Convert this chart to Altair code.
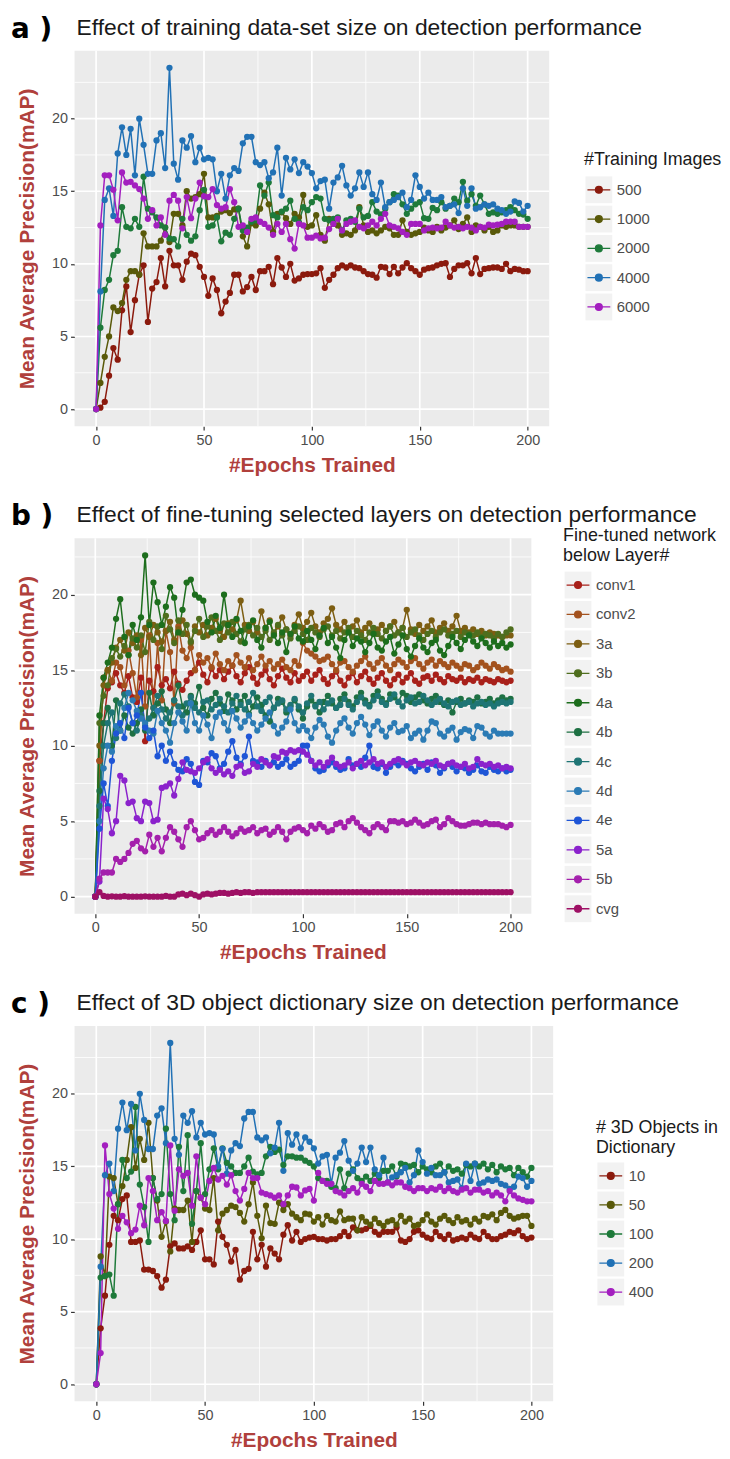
import altair as alt
import pandas as pd

EPOCHS = list(range(0, 201, 2))

# ---------------- panel a : training data-set size ----------------
A_LABELS = ["500", "1000", "2000", "4000", "6000"]
A_500 = [0, 0.1, 0.5, 2.3, 4.2, 3.4, 6.8, 8.45, 5.3, 7.5,
         9.25, 9.9, 6.0, 8.3, 8.75, 10.4, 8.45, 10.9, 9.9, 9.9,
         8.9, 10.15, 10.7, 10.6, 9.8, 9.1, 7.8, 9.0, 8.2, 6.6,
         7.4, 8.0, 9.25, 9.25, 8.1, 8.4, 9.1, 8.2, 9.5, 9.5,
         9.8, 8.6, 10.4, 9.75, 9.1, 10.0, 8.85, 9.0, 9.25, 9.3,
         9.3, 9.35, 9.7, 8.35, 8.9, 9.25, 9.7, 9.9, 9.75, 9.9,
         9.75, 9.7, 9.5, 9.3, 9.25, 9.05, 9.8, 9.75, 9.3, 9.8,
         9.35, 9.75, 10.05, 9.7, 9.5, 9.25, 9.6, 9.7, 9.75, 9.9,
         10.0, 10.05, 9.1, 9.65, 9.9, 9.9, 10.05, 9.35, 10.4, 9.3,
         9.65, 9.7, 9.75, 9.75, 9.65, 10.0, 9.5, 9.65, 9.6, 9.5,
         9.5]
A_1000 = [0, 1.8, 3.6, 5.0, 7.0, 6.75, 7.3, 8.9, 9.5, 9.5,
          9.25, 12.1, 11.2, 11.2, 11.2, 11.6, 12.5, 11.5, 13.45, 13.45,
          12.65, 15.0, 14.5, 14.6, 14.8, 16.2, 13.2, 13.2, 13.3, 13.6,
          13.7, 13.5, 13.75, 13.8, 11.9, 11.2, 12.8, 12.65, 13.8, 14.9,
          14.1, 12.2, 13.45, 13.55, 13.15, 12.75, 13.45, 13.2, 14.75, 12.55,
          12.65, 13.35, 12.0, 11.6, 13.1, 12.75, 12.65, 12.0, 12.1, 12.0,
          12.3, 13.9, 12.65, 12.2, 12.3, 12.1, 12.3, 12.55, 12.45, 12.0,
          12.0, 13.0, 12.2, 12.0, 12.1, 12.2, 12.5, 12.3, 12.2, 12.55,
          12.3, 12.5, 12.65, 13.0, 12.4, 12.75, 13.2, 12.2, 12.65, 12.55,
          12.3, 12.55, 12.2, 12.3, 12.65, 12.55, 12.65, 12.65, 12.55, 12.55,
          12.55]
A_2000 = [0, 5.6, 8.2, 8.9, 10.6, 10.9, 13.9, 12.55, 12.45, 13.1,
          12.55, 16.0, 13.8, 13.55, 13.2, 12.65, 12.5, 11.75, 11.7, 11.2,
          13.1, 12.0, 11.6, 11.9, 13.7, 15.1, 12.55, 12.65, 13.2, 11.55,
          12.15, 12.0, 13.1, 13.8, 12.3, 12.5, 12.9, 13.0, 15.4, 14.7,
          15.6, 13.35, 13.2, 13.6, 13.8, 14.35, 13.1, 12.85, 13.9, 13.7,
          14.25, 14.6, 14.5, 13.1, 13.0, 13.1, 13.2, 12.3, 13.0, 13.1,
          12.9, 13.8, 13.2, 13.3, 14.25, 13.6, 13.4, 13.8, 14.25, 14.8,
          14.7, 14.1, 13.45, 13.8, 14.1, 14.25, 13.15, 13.1, 13.85, 13.7,
          14.25, 13.8, 14.0, 14.5, 14.25, 15.65, 14.35, 14.8, 14.0, 14.7,
          14.1, 13.45, 13.55, 13.45, 13.55, 13.7, 13.9, 13.7, 13.45, 13.4,
          13.1]
A_4000 = [0, 8.1, 14.4, 15.2, 13.3, 17.6, 19.4, 17.5, 19.3, 16.1,
          20.0, 18.2, 16.2, 16.2, 18.5, 19.0, 16.6, 23.5, 16.9, 15.8,
          18.5, 18.0, 18.8, 17.0, 18.0, 17.2, 17.3, 17.2, 15.0, 16.2,
          14.5, 16.1, 16.6, 16.4, 18.3, 18.75, 18.75, 17.0, 16.8, 17.0,
          15.9, 16.3, 18.0, 14.7, 17.3, 16.5, 17.2, 16.25, 17.0, 16.7,
          16.25, 15.2, 15.7, 15.8, 13.8, 15.6, 15.95, 16.75, 15.4, 14.7,
          15.2, 16.3, 15.3, 16.3, 14.8, 14.4, 15.6, 13.9, 14.25, 14.4,
          14.6, 14.9, 13.9, 14.4, 16.1, 15.3, 14.5, 14.9, 14.4, 14.4,
          14.6, 13.9, 14.0, 14.1, 13.5, 15.2, 14.0, 15.2, 13.8, 13.9,
          14.1, 14.0, 14.1, 13.8, 13.7, 13.45, 13.6, 14.3, 14.2, 13.6,
          14.0]
A_6000 = [0, 12.65, 16.1, 16.1, 15.1, 13.0, 16.3, 15.6, 15.65, 15.4,
          15.15, 14.5, 13.1, 13.7, 12.65, 13.2, 12.0, 14.35, 14.75, 14.35,
          12.45, 14.6, 13.15, 14.5, 15.6, 14.65, 14.6, 15.15, 14.05, 13.8,
          13.9, 15.15, 14.25, 12.55, 12.65, 12.2, 13.1, 13.2, 12.9, 12.75,
          12.5, 12.0, 12.75, 12.2, 12.75, 11.7, 11.05, 12.75, 12.65, 11.8,
          11.8, 11.95, 11.75, 11.8, 12.4, 12.75, 13.1, 12.3, 12.75, 12.9,
          13.0, 12.55, 12.45, 12.65, 12.9, 12.65, 13.1, 13.45, 12.65, 12.55,
          12.45, 12.2, 12.0, 12.75, 12.75, 12.75, 12.3, 12.45, 12.5, 12.45,
          12.5, 12.9, 12.65, 12.5, 12.55, 12.45, 12.55, 12.5, 12.3, 12.55,
          12.5, 12.7, 12.65, 12.7, 12.75, 12.9, 12.9, 12.9, 12.55, 12.55,
          12.55]

# ---------------- panel b : fine-tuned layers ----------------
B_LABELS = ["conv1", "conv2", "3a", "3b", "4a", "4b", "4c", "4d", "4e", "5a", "5b", "cvg"]
B_CONV1 = [0, 9.0, 11.5, 13.8, 14.2, 14.8, 14.0, 13.5, 14.6, 13.2,
           12.9, 14.5, 10.3, 14.3, 13.6, 15.2, 14.0, 14.4, 13.8, 14.9,
           14.1, 13.7, 14.3, 14.8, 15.0, 15.5, 14.7, 14.2, 15.1, 14.6,
           15.0, 14.4, 14.9, 15.3, 14.6, 14.2, 14.8, 15.2, 14.5, 14.1,
           14.7, 15.0, 14.4, 14.0, 14.6, 15.1, 14.5, 14.2, 14.8, 14.3,
           14.6, 14.9, 14.3, 14.7, 15.0, 14.4, 14.1, 14.6, 14.9, 14.3,
           14.0, 14.5, 14.8, 14.2, 14.6, 14.9, 14.4, 14.1, 14.5, 14.8,
           14.3, 14.0, 14.4, 14.7, 14.2, 14.5, 14.8, 14.3, 14.1, 14.5,
           14.6, 14.3, 14.7, 14.4, 14.2, 14.6, 14.4, 14.3, 14.5, 14.2,
           14.4, 14.3, 14.5, 14.2, 14.4, 14.3, 14.2, 14.4, 14.3, 14.2,
           14.3]
B_CONV2 = [0, 9.0, 14.5, 15.0, 14.3, 15.5, 15.2, 14.0, 16.3, 14.8,
           13.2, 17.0, 12.6, 17.3, 12.5, 16.8, 13.0, 17.6, 16.2, 12.8,
           17.9, 16.3, 15.8, 16.5, 15.0, 16.0, 15.5, 15.8, 15.2, 16.1,
           15.4, 15.0, 15.6, 15.3, 16.0, 15.5, 15.2, 15.8, 15.0, 15.4,
           15.9, 15.3, 15.6, 15.1, 15.4, 15.7, 15.2, 15.0, 15.6, 15.3,
           16.8, 16.3, 16.1, 15.9, 15.6, 15.7, 15.9, 15.4, 15.0, 15.5,
           15.6, 15.2, 14.9, 15.3, 15.6, 15.9, 15.4, 15.1, 15.5, 15.8,
           15.3, 15.0, 15.4, 15.7, 15.5, 15.2, 15.6, 15.8, 15.4, 15.1,
           15.5, 15.7, 15.3, 15.6, 15.4, 15.2, 15.5, 15.3, 15.1, 15.4,
           15.3, 15.0, 15.2, 15.5, 15.3, 15.1, 15.4, 15.2, 15.0, 15.1,
           14.9]
B_3A = [0, 10.0, 14.0, 15.0, 15.5, 16.5, 17.0, 16.3, 17.5, 16.8,
        17.3, 16.0, 17.8, 17.2, 18.0, 17.5, 16.9, 17.6, 18.2, 17.0,
        17.7, 18.3, 17.4, 16.8, 17.9, 17.5, 18.0, 17.3, 17.8, 18.4,
        17.6, 17.2, 18.1, 17.7, 18.3, 19.6, 18.0, 17.6, 18.2, 17.5,
        18.9, 17.8, 18.3, 17.4, 17.9, 18.5, 17.7, 17.3, 18.0, 18.7,
        17.8, 18.2, 18.8, 17.9, 17.5, 18.1, 18.4, 19.1, 18.0, 17.7,
        18.2, 17.6, 17.9, 18.3, 17.5, 17.8, 18.1, 17.4, 17.7, 18.0,
        17.6, 17.9, 18.2, 17.5, 17.8, 19.0, 17.7, 17.4, 18.0, 17.6,
        17.9, 18.3, 17.5, 17.8, 18.1, 17.6, 17.9, 18.6, 17.6, 17.8,
        17.5, 17.7, 17.4, 17.6, 17.3, 17.5, 17.4, 17.3, 17.2, 17.3,
        17.3]
B_3B = [0, 11.5, 13.3, 14.0, 15.8, 16.4, 15.9, 16.6, 16.0, 17.1,
        16.5, 17.3, 16.2, 18.2, 17.0, 17.9, 16.4, 18.6, 17.7, 16.8,
        18.3, 17.4, 18.0, 16.9, 17.6, 18.4, 17.2, 17.9, 18.5, 17.6,
        17.0, 18.1, 17.5, 18.2, 17.4, 16.9, 17.7, 18.0, 17.3, 17.8,
        17.2, 17.6, 17.0, 17.5, 18.0, 17.3, 17.7, 17.1, 17.6, 17.9,
        17.4, 17.0, 17.8, 17.5, 17.2, 17.7, 17.9, 17.3, 17.6, 17.1,
        17.5, 17.8, 17.2, 17.6, 17.3, 17.0, 17.5, 17.8, 17.4, 17.1,
        17.6, 17.9, 17.3, 17.5, 17.8, 17.2, 17.5, 17.7, 17.3, 17.0,
        17.4, 17.6, 17.2, 17.5, 17.7, 17.3, 17.4, 17.6, 17.2, 17.5,
        17.4, 17.3, 17.5, 17.2, 17.4, 17.3, 17.1, 17.4, 17.2, 17.5,
        17.7]
B_4A = [0, 12.0, 14.5, 15.5, 16.5, 18.4, 19.7, 17.2, 16.0, 18.0,
        17.0, 18.5, 22.6, 18.0, 20.8, 19.5, 18.0, 19.2, 20.5, 19.8,
        17.5, 19.0, 20.8, 21.0, 20.0, 19.8, 19.6, 18.2, 17.5, 18.6,
        17.8, 20.0, 18.0, 17.2, 18.4, 17.6, 16.8, 17.9, 18.3, 17.0,
        16.5, 17.8, 18.2, 17.3, 16.8, 17.5, 16.2, 17.4, 17.9, 17.1,
        16.9, 17.6, 17.0, 16.4, 17.3, 17.8, 16.8, 17.2, 16.5, 15.8,
        17.0, 17.5, 16.6, 17.1, 16.9, 16.2, 16.8, 17.4, 16.5, 16.3,
        16.9, 17.2, 16.1, 16.7, 17.3, 16.4, 15.9, 16.6, 17.1, 16.5,
        16.2, 16.8, 17.0, 16.3, 16.0, 16.6, 17.2, 16.8, 16.4, 17.0,
        17.3, 16.9, 16.6, 17.1, 16.8, 16.5, 16.9, 16.6, 16.8, 16.5,
        16.7]
B_4B = [0, 7.0, 11.5, 12.5, 10.0, 13.0, 11.0, 12.0, 11.2, 10.8,
        11.5, 12.4, 11.0, 13.5, 12.0, 12.8, 13.6, 12.4, 11.5, 13.0,
        14.0, 12.6, 12.2, 13.3, 12.8, 13.9, 12.5, 12.0, 13.1, 13.5,
        12.8, 12.3, 13.4, 13.0, 12.4, 12.9, 13.3, 12.1, 12.6, 13.2,
        12.7, 12.0, 11.6, 12.5, 13.1, 12.9, 12.2, 12.6, 13.0, 12.4,
        11.8, 12.6, 13.0, 12.7, 12.2, 12.9, 13.3, 12.8, 12.5, 13.1,
        13.4, 12.9, 12.6, 13.2, 13.5, 13.0, 12.7, 13.3, 13.6, 13.1,
        12.8, 13.4, 13.2, 12.9, 13.5, 13.3, 12.9, 13.2, 13.4, 13.0,
        12.8, 13.1, 13.3, 12.9, 12.7, 13.0, 12.2, 12.9, 13.1, 12.8,
        13.0, 12.9, 13.2, 12.8, 12.9, 13.1, 12.8, 13.0, 13.2, 13.0,
        13.1]
B_4C = [0, 6.0, 10.0, 11.5, 12.2, 10.5, 12.8, 13.4, 12.6, 11.5,
        11.0, 12.0, 11.3, 11.8, 12.5, 13.3, 12.4, 11.8, 12.2, 13.0,
        12.6, 12.0, 12.8, 13.2, 12.5, 12.2, 12.9, 13.0, 12.4, 12.7,
        13.1, 12.6, 12.2, 12.8, 13.3, 12.7, 12.4, 12.9, 13.5, 12.6,
        12.3, 12.9, 13.2, 12.5, 12.8, 13.0, 12.4, 12.7, 13.1, 12.6,
        12.2, 12.8, 13.3, 12.6, 12.9, 12.4, 12.8, 13.0, 12.5, 12.7,
        13.1, 12.7, 12.4, 12.9, 13.2, 12.8, 12.6, 13.0, 13.3, 12.9,
        12.7, 13.1, 13.4, 12.9, 12.6, 13.0, 13.2, 12.8, 12.9, 13.3,
        13.0, 12.7, 12.9, 13.1, 12.8, 12.6, 12.9, 13.0, 12.7, 12.8,
        12.9, 12.6, 12.8, 12.9, 12.7, 12.8, 12.6, 12.8, 12.9, 12.8,
        12.9]
B_4D = [0, 5.0, 8.5, 10.0, 9.6, 11.3, 11.0, 12.5, 13.5, 13.0,
        12.3, 11.8, 11.5, 11.0, 10.8, 12.3, 11.5, 11.0, 10.2, 11.5,
        12.2, 11.6, 11.0, 12.8, 11.5, 11.0, 12.0, 11.4, 10.5, 11.9,
        12.2, 11.5, 11.0, 12.3, 11.8, 11.2, 11.6, 12.0, 11.5, 11.0,
        11.4, 11.8, 12.2, 11.3, 10.8, 11.2, 11.6, 12.4, 11.5, 11.0,
        11.3, 11.0, 10.5, 11.2, 11.7, 11.4, 10.6, 10.2, 11.0, 11.5,
        11.8, 11.2, 10.8, 11.5, 11.9, 11.4, 10.7, 11.3, 11.6, 11.0,
        10.6, 11.2, 11.5, 10.9, 11.0, 11.3, 10.5, 10.8, 11.0, 10.4,
        11.0, 11.6, 11.5, 10.8, 10.6, 11.0, 11.2, 10.4, 10.9, 11.1,
        11.0, 10.5, 11.3, 11.2, 10.8, 10.6, 11.0, 10.8, 10.8, 10.8,
        10.8]
B_4E = [0, 4.5, 7.5, 6.0, 9.0, 10.8, 11.5, 10.5, 12.5, 11.5,
        12.0, 13.5, 11.2, 10.5, 11.0, 9.3, 10.0, 9.0, 9.6, 8.8,
        8.4, 8.3, 9.1, 8.8, 7.6, 7.4, 9.0, 8.9, 9.5, 9.3,
        8.5, 8.8, 9.6, 10.3, 9.2, 8.8, 9.3, 10.6, 9.0, 8.9,
        8.6, 9.0, 8.7, 8.9, 8.6, 8.8, 9.1, 8.6, 8.8, 9.0,
        10.0, 10.0, 9.0, 8.5, 8.3, 8.4, 8.7, 8.9, 8.6, 8.4,
        8.5, 9.1, 8.7, 8.8, 8.6, 9.2, 10.0, 8.6, 8.5, 8.8,
        8.2, 8.6, 8.9, 8.7, 9.0, 8.8, 8.5, 8.3, 8.6, 8.8,
        8.4, 8.9, 8.7, 8.2, 8.5, 8.8, 8.6, 8.3, 8.6, 8.5,
        8.2, 8.4, 8.7, 8.3, 8.2, 8.6, 8.4, 8.3, 8.5, 8.3,
        8.4]
B_5A = [0, 1.0, 6.5, 5.8, 4.2, 5.0, 8.0, 7.7, 6.2, 6.3,
        5.2, 5.0, 6.3, 6.2, 5.0, 5.1, 7.2, 7.3, 7.5, 6.7,
        7.8, 8.9, 8.4, 8.3, 8.2, 8.5, 8.9, 9.1, 8.5, 8.2,
        8.4, 8.1, 8.3, 8.0, 8.6, 8.7, 8.2, 8.3, 8.8, 8.6,
        9.1, 8.9, 8.7, 9.3, 9.2, 9.6, 9.5, 9.7, 9.6, 9.7,
        9.6, 9.4, 9.0, 8.7, 8.9, 8.6, 8.9, 9.2, 8.8, 8.6,
        8.7, 8.9, 8.5, 8.8, 9.0, 8.7, 8.9, 9.1, 8.8, 8.9,
        8.6, 8.8, 9.0, 9.1, 8.9, 8.7, 8.9, 9.0, 8.8, 8.7,
        8.9, 8.8, 9.0, 8.7, 8.6, 8.8, 8.9, 8.7, 8.6, 8.8,
        8.5, 8.6, 9.1, 8.8, 8.7, 8.8, 8.6, 8.7, 8.5, 8.6,
        8.5]
B_5B = [0, 1.2, 1.6, 1.6, 1.6, 2.5, 2.3, 2.5, 2.9, 3.5,
        3.7, 3.2, 3.0, 4.1, 3.3, 3.9, 3.0, 3.9, 4.6, 4.3,
        3.8, 3.3, 4.6, 5.0, 4.4, 3.8, 3.9, 4.2, 4.4, 4.1,
        4.3, 4.6, 4.3, 4.0, 4.2, 4.5, 4.3, 4.4, 4.6, 4.2,
        4.4, 4.5, 4.1, 4.3, 4.6, 4.3, 3.8, 4.3, 4.5, 4.6,
        4.4, 4.2, 4.7, 4.5, 4.8, 4.6, 4.3, 4.4, 4.8, 4.9,
        4.6, 5.0, 5.2, 4.9, 4.6, 4.4, 4.2, 4.6, 4.8, 4.6,
        4.4, 5.0, 5.0, 4.9, 5.0, 4.8, 4.9, 5.1, 4.9, 4.7,
        4.8, 5.0, 5.1, 4.6, 4.8, 5.2, 5.0, 4.8, 4.7, 4.7,
        4.8, 4.9, 4.9, 4.8, 4.9, 4.8, 4.8, 4.8, 4.7, 4.6,
        4.75]
B_CVG = [0.0, 0.3, 0.05, 0.0, 0.02, 0.0, 0.0, 0.03, 0.0, 0.0,
         0.0, 0.0, 0.02, 0.0, 0.0, 0.0, 0.0, 0.05, 0.0, 0.0,
         0.15, 0.2, 0.1, 0.2, 0.1, 0.0, 0.15, 0.2, 0.15, 0.2,
         0.25, 0.25, 0.2, 0.25, 0.3, 0.25, 0.3, 0.3, 0.25, 0.3,
         0.3, 0.3, 0.3, 0.3, 0.3, 0.3, 0.3, 0.3, 0.3, 0.3,
         0.3, 0.3, 0.3, 0.3, 0.3, 0.3, 0.3, 0.3, 0.3, 0.3,
         0.3, 0.3, 0.3, 0.3, 0.3, 0.3, 0.3, 0.3, 0.3, 0.3,
         0.3, 0.3, 0.3, 0.3, 0.3, 0.3, 0.3, 0.3, 0.3, 0.3,
         0.3, 0.3, 0.3, 0.3, 0.3, 0.3, 0.3, 0.3, 0.3, 0.3,
         0.3, 0.3, 0.3, 0.3, 0.3, 0.3, 0.3, 0.3, 0.3, 0.3,
         0.3]

# ---------------- panel c : 3D object dictionary size ----------------
C_LABELS = ["10", "50", "100", "200", "400"]
C_10 = [0, 3.85, 6.1, 9.6, 11.6, 11.3, 12.75, 13.0, 9.8, 9.8,
        9.9, 7.9, 7.9, 7.8, 7.45, 6.65, 7.2, 9.5, 9.7, 9.35,
        9.35, 9.5, 9.25, 9.8, 10.6, 8.6, 8.6, 8.25, 11.2, 10.15,
        9.6, 8.45, 9.25, 7.2, 7.8, 7.95, 10.5, 8.6, 9.6, 8.1,
        9.35, 9.0, 8.6, 10.3, 10.95, 9.9, 10.5, 9.8, 10.0, 10.1,
        10.15, 10.0, 10.0, 9.9, 10.0, 10.0, 10.2, 10.5, 10.2, 10.8,
        10.6, 10.6, 10.7, 10.9, 10.5, 10.3, 10.5, 10.5, 10.5, 10.8,
        9.9, 9.8, 10.0, 10.5, 10.6, 10.3, 10.1, 10.0, 10.5, 10.2,
        10.0, 10.3, 9.9, 10.0, 10.1, 10.0, 10.3, 10.1, 10.0, 10.5,
        10.2, 10.0, 10.0, 10.2, 10.3, 10.5, 10.4, 10.6, 10.2, 10.0,
        10.1]
C_50 = [0, 8.8, 7.45, 14.3, 14.2, 12.4, 13.65, 15.45, 17.7, 14.9,
        16.9, 15.45, 18.0, 14.2, 12.65, 10.15, 11.2, 9.15, 12.1, 12.0,
        12.0, 12.65, 9.8, 13.3, 12.85, 12.1, 12.0, 14.2, 10.6, 11.75,
        12.0, 12.3, 12.2, 11.8, 11.2, 12.4, 13.9, 11.6, 10.05, 12.3,
        11.1, 11.05, 12.5, 12.0, 12.4, 11.75, 11.5, 11.3, 11.75, 11.7,
        11.2, 11.5, 11.0, 11.6, 11.3, 11.2, 11.9, 11.3, 11.4, 11.4,
        10.6, 11.5, 11.2, 11.0, 11.4, 11.1, 10.9, 11.2, 11.3, 11.0,
        11.6, 11.2, 11.4, 10.9, 11.0, 11.3, 11.7, 11.2, 11.0, 11.4,
        11.6, 11.3, 11.1, 11.5, 11.2, 11.3, 11.0, 11.4, 11.2, 11.6,
        11.5, 11.7, 11.3, 11.8, 12.0, 11.6, 11.4, 11.5, 11.6, 11.6,
        10.9]
C_100 = [0, 7.35, 7.45, 7.55, 6.1, 12.4, 15.45, 14.2, 14.65, 19.1,
         13.75, 12.2, 9.8, 14.2, 12.75, 13.1, 17.6, 13.1, 11.3, 16.35,
         13.3, 17.15, 11.05, 13.3, 16.6, 13.1, 14.8, 16.25, 14.8, 16.25,
         15.25, 15.0, 14.55, 14.55, 15.0, 15.6, 14.65, 14.45, 14.55, 15.7,
         16.35, 16.0, 16.15, 15.1, 15.7, 15.7, 15.6, 15.6, 15.4, 15.25,
         15.0, 14.2, 14.0, 14.0, 13.6, 13.5, 14.8, 13.5, 14.5, 14.8,
         14.2, 14.0, 14.3, 14.0, 14.5, 14.2, 14.7, 14.7, 15.0, 14.3,
         15.2, 15.1, 15.0, 15.1, 14.6, 15.0, 14.8, 14.6, 15.0, 15.2,
         14.6, 15.0, 14.7, 14.8, 14.5, 15.1, 15.0, 15.2, 15.0, 15.2,
         14.8, 15.1, 14.6, 15.0, 14.8, 14.9, 14.4, 14.9, 14.6, 14.3,
         14.9]
C_200 = [0, 8.1, 14.4, 15.2, 13.3, 17.6, 19.4, 17.5, 19.3, 16.1,
         20.0, 18.2, 16.2, 16.2, 18.5, 19.0, 16.6, 23.5, 16.9, 15.8,
         18.5, 18.0, 18.8, 17.0, 18.0, 17.2, 17.3, 17.2, 15.0, 16.2,
         14.5, 16.1, 16.6, 16.4, 18.3, 18.75, 18.75, 17.0, 16.8, 17.0,
         15.9, 16.3, 18.0, 14.7, 17.3, 16.5, 17.2, 16.25, 17.0, 16.7,
         16.25, 15.2, 15.7, 15.8, 13.8, 15.6, 15.95, 16.75, 15.4, 14.7,
         15.2, 16.3, 15.3, 16.3, 14.8, 14.4, 15.6, 13.9, 14.25, 14.4,
         14.6, 14.9, 13.9, 14.4, 16.1, 15.3, 14.5, 14.9, 14.4, 14.4,
         14.6, 13.9, 14.0, 14.1, 13.5, 15.2, 14.0, 15.2, 13.8, 13.9,
         14.1, 14.0, 14.1, 13.8, 13.7, 13.45, 13.6, 14.3, 14.2, 13.6,
         14.0]
C_400 = [0, 2.15, 16.45, 13.1, 12.1, 10.7, 11.6, 11.15, 10.4, 10.65,
         12.3, 10.95, 14.2, 13.3, 11.3, 11.85, 11.25, 16.45, 11.95, 14.8,
         14.35, 14.55, 12.3, 15.7, 12.85, 12.4, 14.0, 14.9, 14.1, 14.35,
         13.75, 14.4, 13.3, 12.65, 13.45, 14.55, 14.2, 14.2, 13.2, 13.1,
         13.0, 12.85, 13.0, 12.4, 13.0, 13.6, 13.55, 13.0, 13.35, 13.45,
         12.65, 14.55, 14.0, 13.8, 13.8, 13.3, 13.2, 13.0, 13.3, 13.5,
         13.2, 13.8, 13.6, 13.3, 14.0, 13.8, 13.8, 13.9, 13.7, 13.9,
         13.9, 13.6, 13.5, 13.3, 13.5, 13.5, 13.3, 13.5, 13.4, 13.6,
         13.3, 13.5, 13.3, 13.2, 13.4, 13.5, 13.2, 13.4, 13.4, 13.2,
         13.3, 13.0, 13.2, 13.0, 12.6, 13.3, 13.0, 12.8, 12.7, 12.6,
         12.6]

X_MAJOR = [0, 50, 100, 150, 200]
X_MINOR = [25, 75, 125, 175]
Y_MAJOR = [0, 5, 10, 15, 20]
Y_MINOR = [2.5, 7.5, 12.5, 17.5, 22.5]

PAL5 = ["#8b1a0d", "#595909", "#1e7a3a", "#2171b5", "#a31fbf"]
B_COLORS = ["#a8201a", "#a3521e", "#7d5e12", "#4f6e1e", "#1d6e1d", "#1e7043",
            "#1f7575", "#2b7bb5", "#1e55d6", "#8b22cc", "#a420ac", "#9e1065"]

FONT = "Liberation Sans"
AXIS_RED = "#b0403c"
PANEL_BG = "#ebebeb"
KEY_PATH = "M-1,0L1,0M-0.3,0A0.3,0.3,0,1,1,0.3,0A0.3,0.3,0,1,1,-0.3,0Z"


def make_long(field, labels, series):
    rows = []
    for lab, vals in zip(labels, series):
        assert len(vals) == len(EPOCHS), (lab, len(vals))
        for e, v in zip(EPOCHS, vals):
            rows.append({"epoch": e, "map": v, field: lab})
    return pd.DataFrame(rows)


def plot_panel(field, tag, title, labels, colors, series, width, height, ydom):
    df = make_long(field, labels, series)
    xenc = alt.X("epoch:Q",
                 scale=alt.Scale(domain=[-10, 210], nice=False, zero=False),
                 axis=alt.Axis(values=X_MAJOR, grid=False, domain=False,
                               tickColor="#333333", tickSize=4, tickWidth=1.2,
                               labelColor="#4d4d4d", labelFont=FONT, labelFontSize=14.5,
                               labelPadding=3, title="#Epochs Trained", titleFont=FONT,
                               titleFontSize=21, titleFontWeight="bold",
                               titleColor=AXIS_RED, titlePadding=8))
    yenc = alt.Y("map:Q",
                 scale=alt.Scale(domain=ydom, nice=False, zero=False),
                 axis=alt.Axis(values=Y_MAJOR, grid=False, domain=False,
                               tickColor="#333333", tickSize=4, tickWidth=1.2,
                               labelColor="#4d4d4d", labelFont=FONT, labelFontSize=14.5,
                               labelPadding=3, title="Mean Average Precision(mAP)",
                               titleFont=FONT, titleFontSize=21, titleFontWeight="bold",
                               titleColor=AXIS_RED, titlePadding=14))
    color = alt.Color(f"{field}:N", scale=alt.Scale(domain=labels, range=colors), legend=None)

    gx_minor = alt.Chart(pd.DataFrame({"epoch": X_MINOR})).mark_rule(
        color="white", strokeWidth=0.8).encode(x=xenc)
    gx_major = alt.Chart(pd.DataFrame({"epoch": X_MAJOR})).mark_rule(
        color="white", strokeWidth=1.7).encode(x=xenc)
    gy_minor = alt.Chart(pd.DataFrame({"map": Y_MINOR})).mark_rule(
        color="white", strokeWidth=0.8).encode(y=yenc)
    gy_major = alt.Chart(pd.DataFrame({"map": Y_MAJOR})).mark_rule(
        color="white", strokeWidth=1.7).encode(y=yenc)
    lines = alt.Chart(df).mark_line(strokeWidth=1.5).encode(x=xenc, y=yenc, color=color)
    points = alt.Chart(df).mark_circle(size=40, opacity=1).encode(x=xenc, y=yenc, color=color)
    tag_t = alt.Chart(pd.DataFrame({"t": [tag]})).mark_text(
        font="DejaVu Sans", fontSize=28, fontWeight="bold", align="left",
        baseline="alphabetic", color="#000000").encode(
        x=alt.value(-64), y=alt.value(-13), text="t:N")
    title_t = alt.Chart(pd.DataFrame({"t": [title]})).mark_text(
        font=FONT, fontSize=23, align="left", baseline="alphabetic",
        color="#1a1a1a").encode(x=alt.value(2), y=alt.value(-16), text="t:N")
    return alt.layer(gx_minor, gx_major, gy_minor, gy_major, lines, points, tag_t, title_t).properties(
        width=width, height=height,
        view=alt.ViewBackground(fill=PANEL_BG, stroke="transparent", strokeWidth=0))


def legend_panel(field, labels, colors, title_lines, title_ys, y0, y1, width, height):
    n = len(labels)
    df = pd.DataFrame({field: labels, "idx": list(range(n))})
    yenc = alt.Y("idx:Q", scale=alt.Scale(domain=[0, n - 1], range=[y0, y1]), axis=None)
    cscale = alt.Scale(domain=labels, range=colors)
    bg = alt.Chart(df).mark_square(size=729, color="#f2f2f2", opacity=1).encode(
        x=alt.value(14), y=yenc)
    sym = alt.Chart(df).mark_point(shape=KEY_PATH, filled=True, size=529, opacity=1,
                                   strokeWidth=1.3).encode(
        x=alt.value(14), y=yenc,
        color=alt.Color(f"{field}:N", scale=cscale, legend=None),
        stroke=alt.Stroke(f"{field}:N", scale=cscale, legend=None))
    txt = alt.Chart(df).mark_text(align="left", baseline="middle", font=FONT,
                                  fontSize=15, color="#4d4d4d").encode(
        x=alt.value(32), y=yenc, text=f"{field}:N")
    layers = [bg, sym, txt]
    for line, ty in zip(title_lines, title_ys):
        layers.append(alt.Chart(pd.DataFrame({"t": [line]})).mark_text(
            align="left", baseline="middle", font=FONT, fontSize=18,
            color="#1a1a1a").encode(x=alt.value(-1), y=alt.value(ty), text="t:N"))
    return alt.layer(*layers).properties(
        width=width, height=height,
        view=alt.ViewBackground(fill="transparent", stroke="transparent", strokeWidth=0))


H = 378
plot_a = plot_panel("images", "a )", "Effect of training data-set size on detection performance",
                    A_LABELS, PAL5, [A_500, A_1000, A_2000, A_4000, A_6000],
                    478, H, [-1.175, 24.675])
leg_a = legend_panel("images", A_LABELS, PAL5, ["#Training Images"], [110], 140, 258, 120, H)

plot_b = plot_panel("layer", "b )", "Effect of fine-tuning selected layers on detection performance",
                    B_LABELS, B_COLORS,
                    [B_CONV1, B_CONV2, B_3A, B_3B, B_4A, B_4B, B_4C, B_4D, B_4E, B_5A, B_5B, B_CVG],
                    460, H, [-1.13, 23.73])
leg_b = legend_panel("layer", B_LABELS, B_COLORS, ["Fine-tuned network", "below Layer#"], [-2, 18],
                     47, 373, 120, H)

plot_c = plot_panel("objects", "c )", "Effect of 3D object dictionary size on detection performance",
                    C_LABELS, PAL5, [C_10, C_50, C_100, C_200, C_400],
                    482, H, [-1.175, 24.675])
leg_c = legend_panel("objects", C_LABELS, PAL5, ["# 3D Objects in", "Dictionary"], [103, 123],
                     151, 268, 110, H)

row_a = alt.hconcat(plot_a, leg_a, spacing=36, bounds="flush")
row_b = alt.hconcat(plot_b, leg_b, spacing=33, bounds="flush")
row_c = alt.hconcat(plot_c, leg_c, spacing=44, bounds="flush")

chart = alt.vconcat(row_a, row_b, row_c, spacing=28).resolve_scale(
    color="independent", stroke="independent").properties(
    padding={"left": 3, "top": 3, "right": 0, "bottom": 0}).configure_view(
    strokeWidth=0).configure(font=FONT)

chart.save("out.html", embed_options={"renderer": "svg", "actions": False})
